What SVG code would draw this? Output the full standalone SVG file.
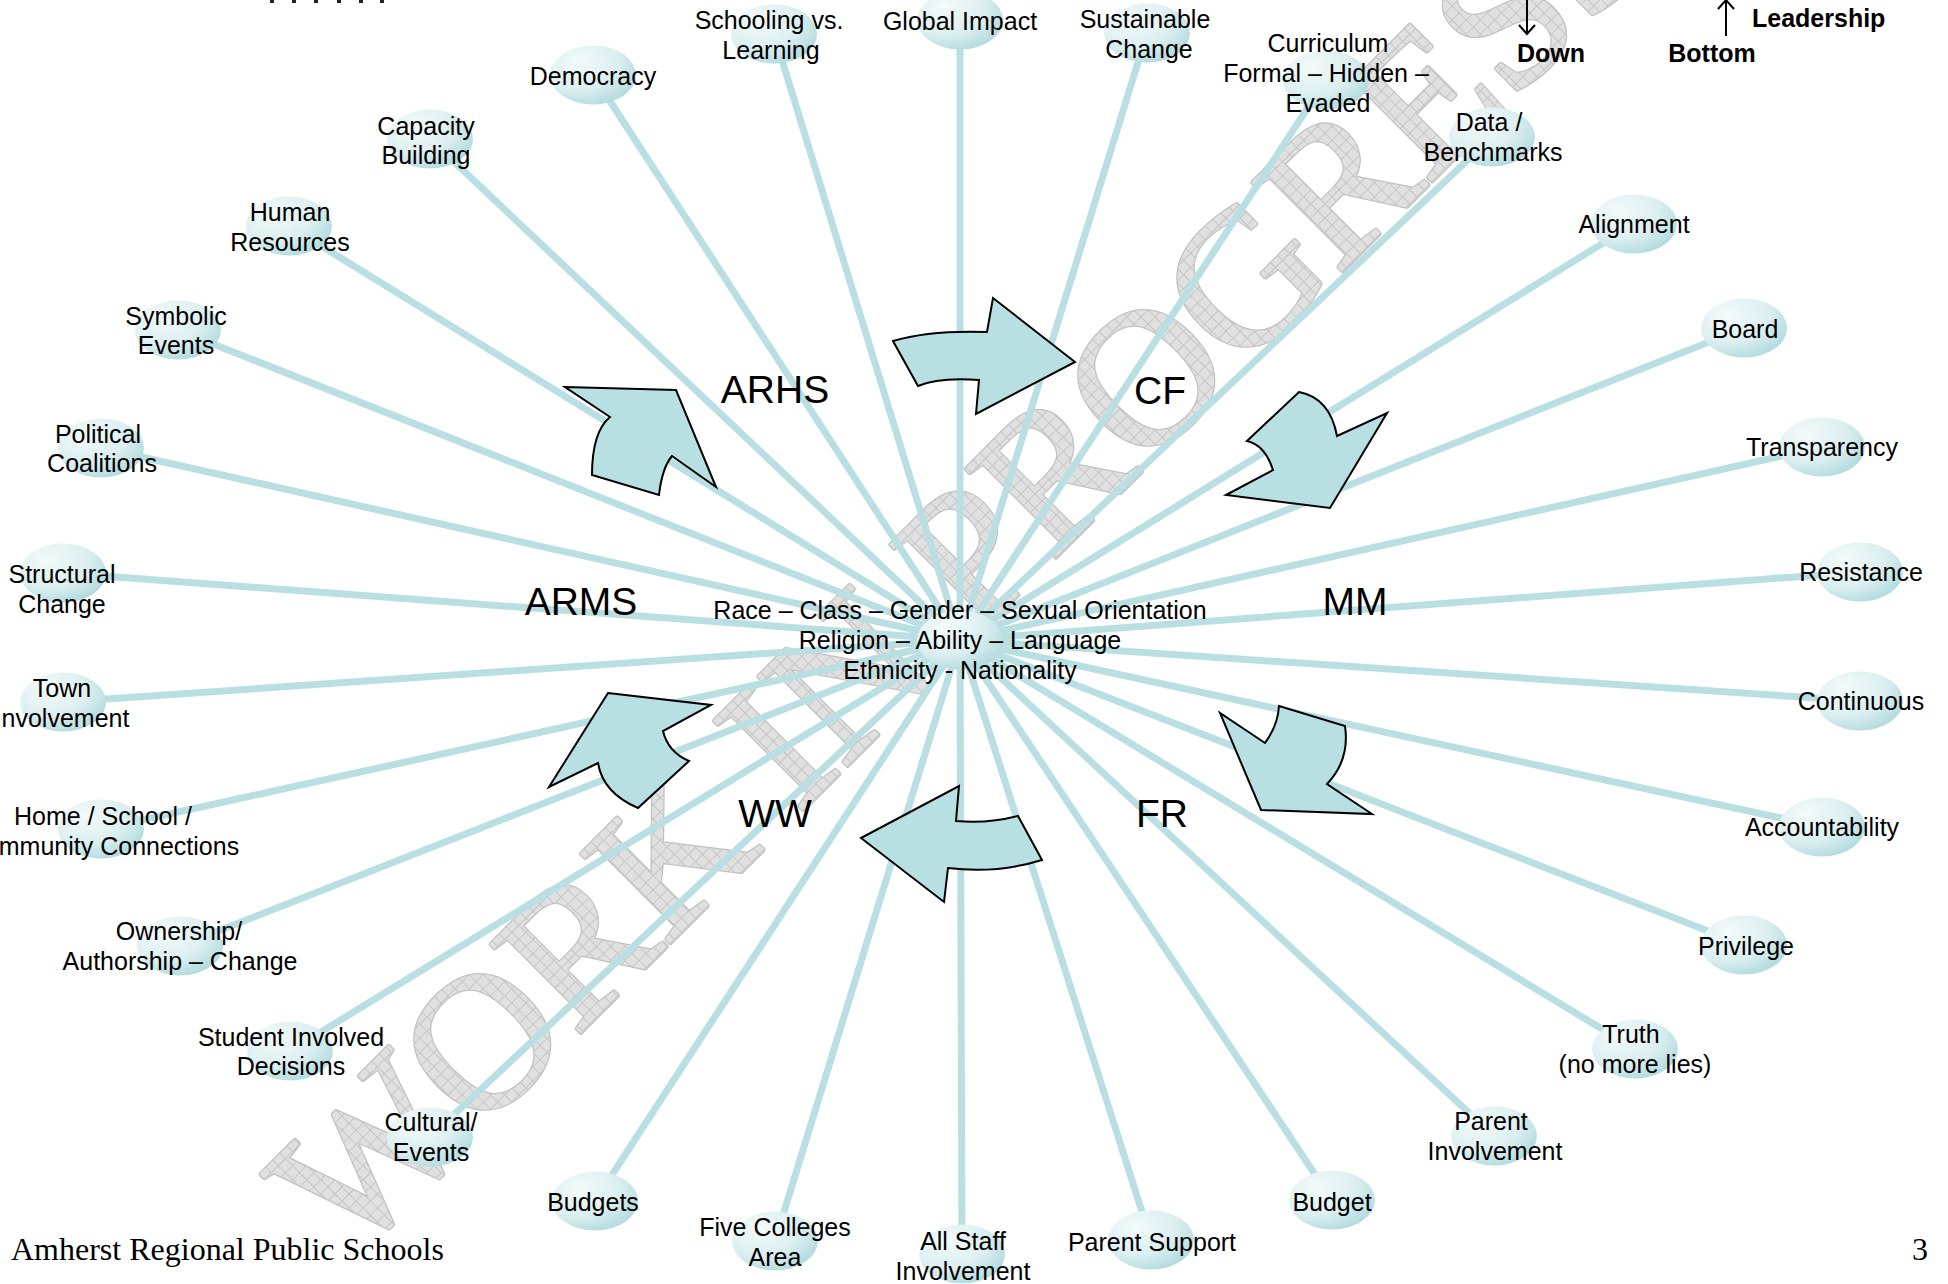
<svg xmlns="http://www.w3.org/2000/svg" width="1948" height="1284" viewBox="0 0 1948 1284">
<defs>
<style>
.t{font-family:"Liberation Sans",Arial,sans-serif;font-size:25px;fill:#000;text-anchor:middle}
.big{font-family:"Liberation Sans",Arial,sans-serif;font-size:39px;fill:#000;text-anchor:middle}
.b{font-family:"Liberation Sans",Arial,sans-serif;font-size:25px;font-weight:bold;fill:#000}
.serif{font-family:"Liberation Serif","Times New Roman",serif;font-size:32px;fill:#000}
.node ellipse{fill:url(#ng)}
#connectors line{stroke:#BADFE3;stroke-width:7}
.arr{fill:#B8DFE2;stroke:#000;stroke-width:2;stroke-linejoin:miter}
.wm{font-family:"Liberation Serif","Times New Roman",serif;font-size:192px;text-anchor:middle;stroke-linejoin:round}
.wm-edge{fill:#C2C2C2;stroke:#C2C2C2;stroke-width:5}
.wm-body{fill:url(#hatch);stroke:url(#hatch);stroke-width:2.5}
.pen{stroke:#000;stroke-width:2;fill:none}
</style>
<radialGradient id="ng" cx="0.32" cy="0.28" r="0.85">
<stop offset="0" stop-color="#F3FAFA"/>
<stop offset="0.55" stop-color="#DCEFF0"/>
<stop offset="1" stop-color="#A8D6DA"/>
</radialGradient>
<pattern id="hatch" width="10" height="10" patternUnits="userSpaceOnUse">
<rect width="10" height="10" fill="#E0E0E0"/>
<path d="M0 0.5H10M0.5 0V10" stroke="#C6C6C6" stroke-width="1"/>
</pattern>
</defs>
<rect width="1948" height="1284" fill="#fff"/>

<g id="watermark">
<text class="wm wm-edge" transform="translate(1006,607) rotate(-45)">WORK IN PROGRESS</text>
<text class="wm wm-body" transform="translate(1006,607) rotate(-45)">WORK IN PROGRESS</text>
</g>

<g id="connectors">
<line x1="960" y1="640" x2="960" y2="20"/>
<line x1="960" y1="640" x2="774" y2="34"/>
<line x1="960" y1="640" x2="1147" y2="33"/>
<line x1="960" y1="640" x2="1326" y2="80"/>
<line x1="960" y1="640" x2="1492" y2="137"/>
<line x1="960" y1="640" x2="1634" y2="224"/>
<line x1="960" y1="640" x2="1744" y2="328"/>
<line x1="960" y1="640" x2="1822" y2="447"/>
<line x1="960" y1="640" x2="1860" y2="572"/>
<line x1="960" y1="640" x2="1860" y2="701"/>
<line x1="960" y1="640" x2="1822" y2="827"/>
<line x1="960" y1="640" x2="1744" y2="945"/>
<line x1="960" y1="640" x2="1635" y2="1049"/>
<line x1="960" y1="640" x2="1494" y2="1136"/>
<line x1="960" y1="640" x2="1332" y2="1200"/>
<line x1="960" y1="640" x2="1151" y2="1240"/>
<line x1="960" y1="640" x2="962" y2="1254"/>
<line x1="960" y1="640" x2="775" y2="1241"/>
<line x1="960" y1="640" x2="595" y2="1201"/>
<line x1="960" y1="640" x2="430" y2="1137"/>
<line x1="960" y1="640" x2="290" y2="1051"/>
<line x1="960" y1="640" x2="180" y2="946"/>
<line x1="960" y1="640" x2="101" y2="829"/>
<line x1="960" y1="640" x2="63" y2="702"/>
<line x1="960" y1="640" x2="63" y2="573"/>
<line x1="960" y1="640" x2="101" y2="448"/>
<line x1="960" y1="640" x2="178" y2="330"/>
<line x1="960" y1="640" x2="289" y2="226"/>
<line x1="960" y1="640" x2="430" y2="139"/>
<line x1="960" y1="640" x2="593" y2="75"/>
</g>

<g id="cycle-arrows">
<path id="arrow-arhs-cf" class="arr" d="M893,341 Q930,330 987,332 L993,298 L1075,362 L976,414 L979,380 Q939,377 918,386 Z"/>
<path id="arrow-cf-mm" class="arr" d="M1299,392 Q1330,398 1337,436 L1387,413 L1330,508 L1226,495 L1273,470 Q1265,445 1247,441 Z"/>
<path id="arrow-mm-fr" class="arr" d="M1279,706 L1345,726 Q1350,760 1327,784 L1372,814 L1261,810 L1220,713 L1265,743 Q1278,725 1279,706 Z"/>
<path id="arrow-fr-ww" class="arr" d="M1018,816 L1042,860 Q996,874 948,868 L944,902 L861,838 L959,786 L956,821 Q987,824 1018,816 Z"/>
<path id="arrow-ww-arms" class="arr" d="M608,693 L711,705 L663,731 Q668,752 689,761 L638,808 Q603,793 598,763 L549,787 Z"/>
<path id="arrow-arms-arhs" class="arr" d="M565,387 L676,390 L716,487 L672,456 Q662,468 659,495 L592,475 Q592,432 610,417 Z"/>
</g>

<g id="stage-labels">
<g id="lbl-arhs"><text class="big" x="775" y="403">ARHS</text></g>
<g id="lbl-cf"><text class="big" x="1160" y="404">CF</text></g>
<g id="lbl-mm"><text class="big" x="1355" y="615">MM</text></g>
<g id="lbl-fr"><text class="big" x="1162" y="827">FR</text></g>
<g id="lbl-ww"><text class="big" x="775" y="827">WW</text></g>
<g id="lbl-arms"><text class="big" x="581" y="615">ARMS</text></g>
</g>

<g id="nodes">
<g id="n-global-impact" class="node"><ellipse cx="960" cy="20" rx="43" ry="29.5"/><text class="t" x="960" y="30">Global Impact</text></g>
<g id="n-schooling" class="node"><ellipse cx="774" cy="34" rx="43" ry="29.5"/><text class="t" x="769" y="29">Schooling vs.</text><text class="t" x="771" y="59">Learning</text></g>
<g id="n-sustainable" class="node"><ellipse cx="1147" cy="33" rx="43" ry="29.5"/><text class="t" x="1145" y="28">Sustainable</text><text class="t" x="1149" y="58">Change</text></g>
<g id="n-curriculum" class="node"><ellipse cx="1326" cy="80" rx="43" ry="29.5"/><text class="t" x="1328" y="52">Curriculum</text><text class="t" x="1326" y="82">Formal – Hidden –</text><text class="t" x="1328" y="112">Evaded</text></g>
<g id="n-data" class="node"><ellipse cx="1492" cy="137" rx="43" ry="29.5"/><text class="t" x="1489" y="131">Data /</text><text class="t" x="1493" y="161">Benchmarks</text></g>
<g id="n-alignment" class="node"><ellipse cx="1634" cy="224" rx="43" ry="29.5"/><text class="t" x="1634" y="233">Alignment</text></g>
<g id="n-board" class="node"><ellipse cx="1744" cy="328" rx="43" ry="29.5"/><text class="t" x="1745" y="338">Board</text></g>
<g id="n-transparency" class="node"><ellipse cx="1822" cy="447" rx="43" ry="29.5"/><text class="t" x="1822" y="456">Transparency</text></g>
<g id="n-resistance" class="node"><ellipse cx="1860" cy="572" rx="43" ry="29.5"/><text class="t" x="1861" y="581">Resistance</text></g>
<g id="n-continuous" class="node"><ellipse cx="1860" cy="701" rx="43" ry="29.5"/><text class="t" x="1861" y="710">Continuous</text></g>
<g id="n-accountability" class="node"><ellipse cx="1822" cy="827" rx="43" ry="29.5"/><text class="t" x="1822" y="836">Accountability</text></g>
<g id="n-privilege" class="node"><ellipse cx="1744" cy="945" rx="43" ry="29.5"/><text class="t" x="1746" y="955">Privilege</text></g>
<g id="n-truth" class="node"><ellipse cx="1635" cy="1049" rx="43" ry="29.5"/><text class="t" x="1631" y="1043">Truth</text><text class="t" x="1635" y="1073">(no more lies)</text></g>
<g id="n-parent-involvement" class="node"><ellipse cx="1494" cy="1136" rx="43" ry="29.5"/><text class="t" x="1491" y="1130">Parent</text><text class="t" x="1495" y="1160">Involvement</text></g>
<g id="n-budget" class="node"><ellipse cx="1332" cy="1200" rx="43" ry="29.5"/><text class="t" x="1332" y="1211">Budget</text></g>
<g id="n-parent-support" class="node"><ellipse cx="1151" cy="1240" rx="43" ry="29.5"/><text class="t" x="1152" y="1251">Parent Support</text></g>
<g id="n-all-staff" class="node"><ellipse cx="962" cy="1254" rx="43" ry="29.5"/><text class="t" x="963" y="1250">All Staff</text><text class="t" x="963" y="1280">Involvement</text></g>
<g id="n-five-colleges" class="node"><ellipse cx="775" cy="1241" rx="43" ry="29.5"/><text class="t" x="775" y="1236">Five Colleges</text><text class="t" x="775" y="1266">Area</text></g>
<g id="n-budgets" class="node"><ellipse cx="595" cy="1201" rx="43" ry="29.5"/><text class="t" x="593" y="1211">Budgets</text></g>
<g id="n-cultural" class="node"><ellipse cx="430" cy="1137" rx="43" ry="29.5"/><text class="t" x="431" y="1131">Cultural/</text><text class="t" x="431" y="1161">Events</text></g>
<g id="n-student" class="node"><ellipse cx="290" cy="1051" rx="43" ry="29.5"/><text class="t" x="291" y="1046">Student Involved</text><text class="t" x="291" y="1075">Decisions</text></g>
<g id="n-ownership" class="node"><ellipse cx="180" cy="946" rx="43" ry="29.5"/><text class="t" x="179" y="940">Ownership/</text><text class="t" x="180" y="970">Authorship – Change</text></g>
<g id="n-home-school" class="node"><ellipse cx="101" cy="829" rx="43" ry="29.5"/><text class="t" x="103" y="825">Home / School /</text><text class="t" x="103" y="855">Community Connections</text></g>
<g id="n-town" class="node"><ellipse cx="63" cy="702" rx="43" ry="29.5"/><text class="t" x="62" y="697">Town</text><text class="t" x="62" y="727">Involvement</text></g>
<g id="n-structural" class="node"><ellipse cx="63" cy="573" rx="43" ry="29.5"/><text class="t" x="62" y="583">Structural</text><text class="t" x="62" y="613">Change</text></g>
<g id="n-political" class="node"><ellipse cx="101" cy="448" rx="43" ry="29.5"/><text class="t" x="98" y="443">Political</text><text class="t" x="102" y="472">Coalitions</text></g>
<g id="n-symbolic" class="node"><ellipse cx="178" cy="330" rx="43" ry="29.5"/><text class="t" x="176" y="325">Symbolic</text><text class="t" x="176" y="354">Events</text></g>
<g id="n-human" class="node"><ellipse cx="289" cy="226" rx="43" ry="29.5"/><text class="t" x="290" y="221">Human</text><text class="t" x="290" y="251">Resources</text></g>
<g id="n-capacity" class="node"><ellipse cx="430" cy="139" rx="43" ry="29.5"/><text class="t" x="426" y="135">Capacity</text><text class="t" x="426" y="164">Building</text></g>
<g id="n-democracy" class="node"><ellipse cx="593" cy="75" rx="43" ry="29.5"/><text class="t" x="593" y="85">Democracy</text></g>
<g id="n-center" class="node"><ellipse cx="960" cy="640" rx="43" ry="29.5"/><text class="t" x="960" y="619">Race – Class – Gender – Sexual Orientation</text><text class="t" x="960" y="649">Religion – Ability – Language</text><text class="t" x="960" y="679">Ethnicity - Nationality</text></g>
</g>

<g id="legend">
<path class="pen" d="M1527 0V33M1519 25L1527 34L1535 25"/>
<text class="b" x="1551" y="62" text-anchor="middle">Down</text>
<path class="pen" d="M1726 36V1M1718 9L1726 0L1734 9"/>
<text class="b" x="1712" y="62" text-anchor="middle">Bottom</text>
<text class="b" x="1752" y="27">Leadership</text>
</g>

<g id="top-dots" fill="#222">
<rect x="270" y="0" width="4" height="3"/>
<rect x="292" y="0" width="4" height="3"/>
<rect x="314" y="0" width="4" height="3"/>
<rect x="337" y="0" width="4" height="3"/>
<rect x="359" y="0" width="4" height="3"/>
<rect x="380" y="0" width="4" height="3"/>
</g>

<g id="footer">
<text class="serif" x="11" y="1260">Amherst Regional Public Schools</text>
<text class="serif" x="1928" y="1260" text-anchor="end">3</text>
</g>
</svg>
